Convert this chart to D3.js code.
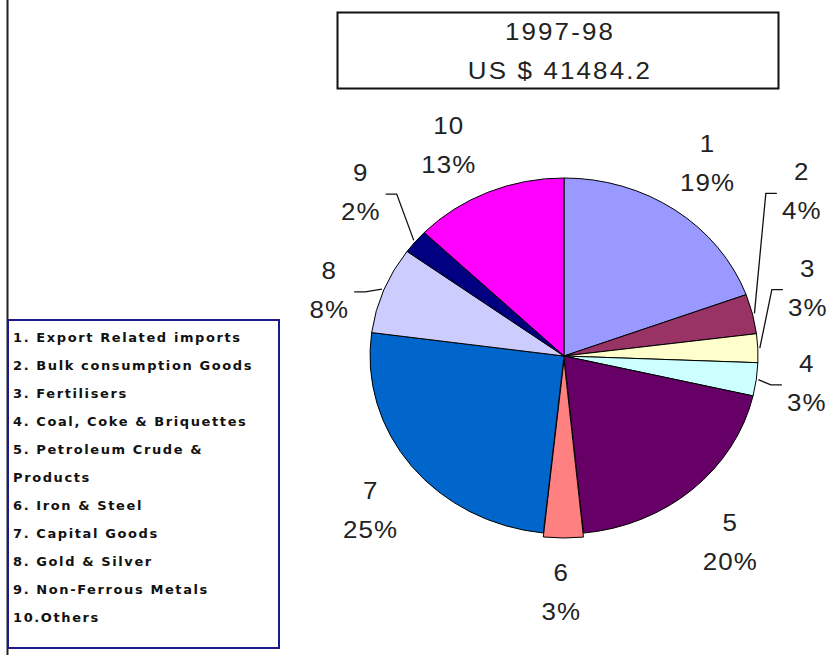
<!DOCTYPE html>
<html>
<head>
<meta charset="utf-8">
<script src="https://cdn.jsdelivr.net/npm/d3@7"></script>
<style>
  body { margin: 0; background: #fff; }
  svg { display: block; }
</style>
</head>
<body>
<div id="chart"></div>
<script>
// shares of imports (%); labels are their rounded values
const categories = ["1", "2", "3", "4", "5", "6", "7", "8", "9", "10"];
const shares = [19.4, 3.6, 2.6, 3.0, 19.8, 3.3, 25.4, 7.9, 2.2, 12.8];
const legendLines = [
  "1. Export Related imports",
  "2. Bulk consumption Goods",
  "3. Fertilisers",
  "4. Coal, Coke & Briquettes",
  "5. Petroleum Crude &",
  "Products",
  "6. Iron & Steel",
  "7. Capital Goods",
  "8. Gold & Silver",
  "9. Non-Ferrous Metals",
  "10.Others"
];
const titleLines = ["1997-98", "US $ 41484.2"];

const colors = ["#9999ff", "#993366", "#ffffcc", "#ccffff", "#660066",
                "#ff8080", "#0066cc", "#ccccff", "#000080", "#ff00ff"];

// label tweaks (px) so the small slices don't collide, like the original
const labelNudge = [[-3, -1], [-11, -110], [-12, -59], [-11, -5], [-3, 9],
                    [-2, 0], [8, 8], [3, 20], [-7, -14], [-15, 4]];
const hasLeader = [false, true, true, true, false, false, false, true, true, false];
const explode = [0, 0, 0, 0, 0, 4, 0, 0, 0, 0];

const W = 831, H = 655;
const cx = 564, cy = 356, rx = 194, ry = 178;
const stretch = 1.08; // the original picture is a bit wider than tall
const total = d3.sum(shares);
const pct = d3.format(".0%");

const svg = d3.select("#chart").append("svg")
    .attr("width", W)
    .attr("height", H);

// left frame line
svg.append("line")
    .attr("x1", 7.5).attr("x2", 7.5)
    .attr("y1", 0).attr("y2", H)
    .attr("stroke", "#222")
    .attr("stroke-width", 2);

// title box
svg.append("rect")
    .attr("x", 337.5).attr("y", 12.5)
    .attr("width", 441).attr("height", 76)
    .attr("fill", "#fff")
    .attr("stroke", "#111")
    .attr("stroke-width", 2);

svg.selectAll("text.title")
  .data(titleLines)
  .join("text")
    .attr("class", "title")
    .attr("transform", (d, i) => `translate(560,${40 + i * 39}) scale(${stretch},1)`)
    .attr("text-anchor", "middle")
    .style("font-family", "'Liberation Sans', Arial, sans-serif")
    .style("font-size", "24px")
    .style("letter-spacing", "2px")
    .style("fill", "#222")
    .text(d => d);

// pie
const data = categories.map((c, i) => ({ key: c, value: shares[i], idx: i }));
const pie = d3.pie().sort(null).value(d => d.value).startAngle(0).endAngle(2 * Math.PI);
const arcs = pie(data);
const arc = d3.arc().innerRadius(0).outerRadius(ry);

const pieG = svg.append("g")
    .attr("transform", `translate(${cx},${cy}) scale(${rx / ry},1)`);

pieG.selectAll("path")
  .data(arcs)
  .join("path")
    .attr("d", arc)
    .attr("transform", d => {
      const a = (d.startAngle + d.endAngle) / 2;
      const e = explode[d.data.idx];
      return `translate(${e * Math.sin(a)},${-e * Math.cos(a)})`;
    })
    .attr("fill", d => colors[d.data.idx])
    .attr("stroke", "#000")
    .attr("stroke-width", 1)
    .attr("vector-effect", "non-scaling-stroke");

// label positions
const k = 1.32;
function labelPos(d) {
  const a = (d.startAngle + d.endAngle) / 2;
  const n = labelNudge[d.data.idx];
  return [cx + k * rx * Math.sin(a) + n[0], cy - k * ry * Math.cos(a) + n[1]];
}
function edgePos(d) {
  const a = (d.startAngle + d.endAngle) / 2;
  return [cx + (rx + 2) * Math.sin(a), cy - (ry + 2) * Math.cos(a)];
}

// leader lines
svg.append("g").selectAll("polyline")
  .data(arcs.filter(d => hasLeader[d.data.idx]))
  .join("polyline")
    .attr("points", d => {
      const a = (d.startAngle + d.endAngle) / 2;
      const side = Math.sin(a) >= 0 ? 1 : -1;
      const [lx, ly] = labelPos(d);
      const s = edgePos(d);
      return [s, [lx - side * 36, ly + 3], [lx - side * 25, ly + 3]].map(p => p.join(",")).join(" ");
    })
    .attr("fill", "none")
    .attr("stroke", "#111")
    .attr("stroke-width", 1.3);

const labels = svg.append("g")
    .style("font-family", "'Liberation Sans', Arial, sans-serif")
    .style("font-size", "24px")
    .style("letter-spacing", "1px")
    .style("fill", "#222")
    .attr("text-anchor", "middle")
  .selectAll("g")
  .data(arcs)
  .join("g")
    .attr("transform", d => `translate(${labelPos(d)}) scale(${stretch},1)`);

labels.append("text")
    .attr("y", -10)
    .text(d => d.data.key);
labels.append("text")
    .attr("y", 29)
    .text(d => pct(d.data.value / total));

// legend box
svg.append("rect")
    .attr("x", 8).attr("y", 320)
    .attr("width", 271).attr("height", 328)
    .attr("fill", "#fff")
    .attr("stroke", "#1a1a8c")
    .attr("stroke-width", 2);

svg.append("g")
    .style("font-family", "'DejaVu Sans', Verdana, sans-serif")
    .style("font-weight", "bold")
    .style("font-size", "13px")
    .style("fill", "#111")
  .selectAll("text")
  .data(legendLines)
  .join("text")
    .attr("x", 13)
    .attr("y", (d, i) => 342 + i * 28)
    .style("letter-spacing", "1.6px")
    .text(d => d);
</script>
</body>
</html>
